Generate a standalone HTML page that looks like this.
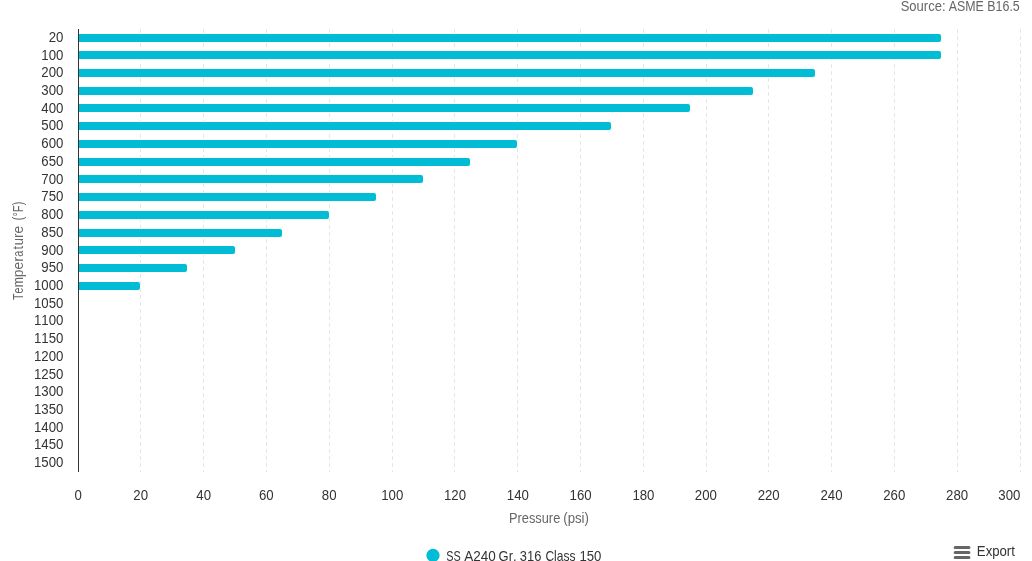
<!DOCTYPE html>
<html><head><meta charset="utf-8"><title>Chart</title>
<style>
html,body{margin:0;padding:0;background:#fff;}
body{width:1032px;height:561px;overflow:hidden;font-family:"Liberation Sans",sans-serif;}
svg{display:block;will-change:transform;}
text{font-family:"Liberation Sans",sans-serif;font-kerning:none;}
</style></head><body>
<svg width="1032" height="561" viewBox="0 0 1032 561">
<rect x="0" y="0" width="1032" height="561" fill="#ffffff"/>

<g stroke="#e6e6e6" stroke-width="1" stroke-dasharray="4,3" fill="none">
<path d="M 140.5 29 L 140.5 472"/>
<path d="M 203.5 29 L 203.5 472"/>
<path d="M 266.5 29 L 266.5 472"/>
<path d="M 329.5 29 L 329.5 472"/>
<path d="M 392.5 29 L 392.5 472"/>
<path d="M 454.5 29 L 454.5 472"/>
<path d="M 517.5 29 L 517.5 472"/>
<path d="M 580.5 29 L 580.5 472"/>
<path d="M 643.5 29 L 643.5 472"/>
<path d="M 706.5 29 L 706.5 472"/>
<path d="M 768.5 29 L 768.5 472"/>
<path d="M 831.5 29 L 831.5 472"/>
<path d="M 894.5 29 L 894.5 472"/>
<path d="M 957.5 29 L 957.5 472"/>
<path d="M 1020.5 29 L 1020.5 472"/>
</g>
<g fill="#00bcd4" stroke="#ffffff" stroke-width="1">
<path d="M 78.5 33.5 L 939.0 33.5 A 2.5 2.5 0 0 1 941.5 36.0 L 941.5 40.0 A 2.5 2.5 0 0 1 939.0 42.5 L 78.5 42.5 Z"/>
<path d="M 78.5 50.5 L 939.0 50.5 A 2.5 2.5 0 0 1 941.5 53.0 L 941.5 57.0 A 2.5 2.5 0 0 1 939.0 59.5 L 78.5 59.5 Z"/>
<path d="M 78.5 68.5 L 813.0 68.5 A 2.5 2.5 0 0 1 815.5 71.0 L 815.5 75.0 A 2.5 2.5 0 0 1 813.0 77.5 L 78.5 77.5 Z"/>
<path d="M 78.5 86.5 L 751.0 86.5 A 2.5 2.5 0 0 1 753.5 89.0 L 753.5 93.0 A 2.5 2.5 0 0 1 751.0 95.5 L 78.5 95.5 Z"/>
<path d="M 78.5 103.5 L 688.0 103.5 A 2.5 2.5 0 0 1 690.5 106.0 L 690.5 110.0 A 2.5 2.5 0 0 1 688.0 112.5 L 78.5 112.5 Z"/>
<path d="M 78.5 121.5 L 609.0 121.5 A 2.5 2.5 0 0 1 611.5 124.0 L 611.5 128.0 A 2.5 2.5 0 0 1 609.0 130.5 L 78.5 130.5 Z"/>
<path d="M 78.5 139.5 L 515.0 139.5 A 2.5 2.5 0 0 1 517.5 142.0 L 517.5 146.0 A 2.5 2.5 0 0 1 515.0 148.5 L 78.5 148.5 Z"/>
<path d="M 78.5 157.5 L 468.0 157.5 A 2.5 2.5 0 0 1 470.5 160.0 L 470.5 164.0 A 2.5 2.5 0 0 1 468.0 166.5 L 78.5 166.5 Z"/>
<path d="M 78.5 174.5 L 421.0 174.5 A 2.5 2.5 0 0 1 423.5 177.0 L 423.5 181.0 A 2.5 2.5 0 0 1 421.0 183.5 L 78.5 183.5 Z"/>
<path d="M 78.5 192.5 L 374.0 192.5 A 2.5 2.5 0 0 1 376.5 195.0 L 376.5 199.0 A 2.5 2.5 0 0 1 374.0 201.5 L 78.5 201.5 Z"/>
<path d="M 78.5 210.5 L 327.0 210.5 A 2.5 2.5 0 0 1 329.5 213.0 L 329.5 217.0 A 2.5 2.5 0 0 1 327.0 219.5 L 78.5 219.5 Z"/>
<path d="M 78.5 228.5 L 280.0 228.5 A 2.5 2.5 0 0 1 282.5 231.0 L 282.5 235.0 A 2.5 2.5 0 0 1 280.0 237.5 L 78.5 237.5 Z"/>
<path d="M 78.5 245.5 L 233.0 245.5 A 2.5 2.5 0 0 1 235.5 248.0 L 235.5 252.0 A 2.5 2.5 0 0 1 233.0 254.5 L 78.5 254.5 Z"/>
<path d="M 78.5 263.5 L 185.0 263.5 A 2.5 2.5 0 0 1 187.5 266.0 L 187.5 270.0 A 2.5 2.5 0 0 1 185.0 272.5 L 78.5 272.5 Z"/>
<path d="M 78.5 281.5 L 138.0 281.5 A 2.5 2.5 0 0 1 140.5 284.0 L 140.5 288.0 A 2.5 2.5 0 0 1 138.0 290.5 L 78.5 290.5 Z"/>
</g>
<path d="M 78.5 29 L 78.5 472" stroke="#333333" stroke-width="1" fill="none"/>
<g font-size="14" fill="#333333">
<text transform="translate(48.70,42) scale(0.9458,1)">20</text>
<text transform="translate(41.34,60) scale(0.9458,1)">100</text>
<text transform="translate(41.34,77) scale(0.9458,1)">200</text>
<text transform="translate(41.34,95) scale(0.9458,1)">300</text>
<text transform="translate(41.34,113) scale(0.9458,1)">400</text>
<text transform="translate(41.34,130) scale(0.9458,1)">500</text>
<text transform="translate(41.34,148) scale(0.9458,1)">600</text>
<text transform="translate(41.34,166) scale(0.9458,1)">650</text>
<text transform="translate(41.34,184) scale(0.9458,1)">700</text>
<text transform="translate(41.34,201) scale(0.9458,1)">750</text>
<text transform="translate(41.34,219) scale(0.9458,1)">800</text>
<text transform="translate(41.34,237) scale(0.9458,1)">850</text>
<text transform="translate(41.34,255) scale(0.9458,1)">900</text>
<text transform="translate(41.34,272) scale(0.9458,1)">950</text>
<text transform="translate(33.97,290) scale(0.9458,1)">1000</text>
<text transform="translate(33.97,308) scale(0.9458,1)">1050</text>
<text transform="translate(33.97,325) scale(0.9458,1)">1100</text>
<text transform="translate(33.97,343) scale(0.9458,1)">1150</text>
<text transform="translate(33.97,361) scale(0.9458,1)">1200</text>
<text transform="translate(33.97,379) scale(0.9458,1)">1250</text>
<text transform="translate(33.97,396) scale(0.9458,1)">1300</text>
<text transform="translate(33.97,414) scale(0.9458,1)">1350</text>
<text transform="translate(33.97,432) scale(0.9458,1)">1400</text>
<text transform="translate(33.97,449) scale(0.9458,1)">1450</text>
<text transform="translate(33.97,467) scale(0.9458,1)">1500</text>
</g>
<g font-size="14" fill="#333333">
<text transform="translate(74.48,500) scale(0.9458,1)">0</text>
<text transform="translate(133.34,500) scale(0.9458,1)">20</text>
<text transform="translate(196.35,500) scale(0.9458,1)">40</text>
<text transform="translate(258.94,500) scale(0.9458,1)">60</text>
<text transform="translate(321.84,500) scale(0.9458,1)">80</text>
<text transform="translate(381.20,500) scale(0.9458,1)">100</text>
<text transform="translate(444.00,500) scale(0.9458,1)">120</text>
<text transform="translate(506.80,500) scale(0.9458,1)">140</text>
<text transform="translate(569.60,500) scale(0.9458,1)">160</text>
<text transform="translate(632.40,500) scale(0.9458,1)">180</text>
<text transform="translate(694.86,500) scale(0.9458,1)">200</text>
<text transform="translate(757.66,500) scale(0.9458,1)">220</text>
<text transform="translate(820.46,500) scale(0.9458,1)">240</text>
<text transform="translate(883.26,500) scale(0.9458,1)">260</text>
<text transform="translate(946.06,500) scale(0.9458,1)">280</text>
</g>
<text transform="translate(998.29,500) scale(0.9436,1)" font-size="14" fill="#333333">300</text>
<text transform="translate(509.06,523) scale(0.9141,1)" font-size="14" fill="#666666">Pressure</text>
<text transform="translate(563.23,523) scale(0.9462,1)" font-size="14" fill="#666666">(psi)</text>
<text transform="translate(900.69,11) scale(0.9303,1)" font-size="14" fill="#666666">Source:</text>
<text transform="translate(948.70,11) scale(0.8852,1)" font-size="14" fill="#666666">ASME</text>
<text transform="translate(987.23,11) scale(0.8905,1)" font-size="14" fill="#666666">B16.5</text>
<g transform="translate(23.0,0) rotate(-90)">
<text transform="translate(-300.06,0) scale(0.7700,1)" font-size="14" fill="#666666">Te</text>
<text transform="translate(-287.37,0) scale(0.8745,1)" font-size="14" fill="#666666">m</text>
<text transform="translate(-277.26,0) scale(0.9837,1)" font-size="14" fill="#666666">pe</text>
<text transform="translate(-261.79,0) scale(1.0200,1)" font-size="14" fill="#666666">r</text>
<text transform="translate(-256.75,0) scale(0.7700,1)" font-size="14" fill="#666666">a</text>
<text transform="translate(-249.60,0) scale(0.9143,1)" font-size="14" fill="#666666">t</text>
<text transform="translate(-245.31,0) scale(0.9306,1)" font-size="14" fill="#666666">u</text>
<text transform="translate(-238.06,0) scale(0.9813,1)" font-size="14" fill="#666666">re</text>
<text transform="translate(-220.53,0) scale(0.8147,1)" font-size="14" fill="#666666">(°F)</text>
</g>
<circle cx="433" cy="555.4" r="6.6" fill="#00bcd4"/>
<text transform="translate(446.36,561) scale(0.7762,1)" font-size="14" fill="#333333">SS</text>
<text transform="translate(464.20,561) scale(0.9645,1)" font-size="14" fill="#333333">A240</text>
<text transform="translate(498.59,561) scale(0.9246,1)" font-size="14" fill="#333333">Gr.</text>
<text transform="translate(519.80,561) scale(0.9216,1)" font-size="14" fill="#333333">316</text>
<text transform="translate(545.43,561) scale(0.8610,1)" font-size="14" fill="#333333">Class</text>
<text transform="translate(579.38,561) scale(0.9397,1)" font-size="14" fill="#333333">150</text>
<path d="M 955.15 547.5 L 968.95 547.5 M 955.15 552.5 L 968.95 552.5 M 955.15 557.5 L 968.95 557.5" stroke="#666666" stroke-width="3" stroke-linecap="round" fill="none"/>
<text transform="translate(976.87,556) scale(0.9412,1)" font-size="14" fill="#333333">Export</text>
</svg></body></html>
